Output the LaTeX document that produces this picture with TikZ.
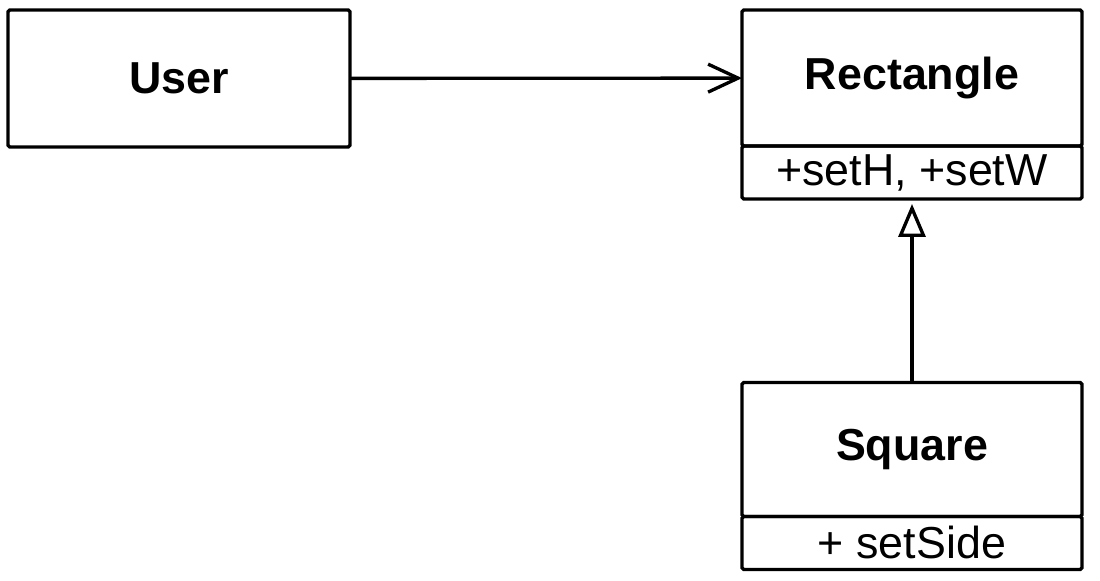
\documentclass[tikz,border=0pt]{standalone}
\usepackage{fontspec}
\setmainfont{Liberation Sans}
\usetikzlibrary{positioning,arrows.meta}

\begin{document}
\begin{tikzpicture}[x=0.02cm, y=-0.02cm,
        cls/.style = {draw, line width=1.9pt, rounded corners=1pt, outer sep=0pt,
                      minimum width=6.8cm, minimum height=2.72cm,
                      font=\fontsize{25.5}{30}\selectfont\bfseries},
        meth/.style = {draw, line width=1.9pt, rounded corners=1pt, outer sep=0pt,
                       minimum width=6.8cm, minimum height=1.06cm, inner sep=0pt,
                       font=\fontsize{25.5}{30}\selectfont},
        node distance={0pt}]
        \useasboundingbox (0,0) rectangle (1100,581);
        \node[cls, minimum width=6.84cm, minimum height=2.74cm] (user) at (179,78.5) {User};
        \node[cls] (rect) at (912,78) {Rectangle};
        \node[meth] (rectm) [below=of rect] {+setH, +setW};
        \node[cls, minimum height=2.68cm] (sq) at (912,449.5) {Square};
        \node[meth] (sqm) [below=of sq] {+ setSide};
        \draw[line width=1.9pt, -{Straight Barb[length=0.6cm, width=0.56cm, line width=1.9pt]}] (user) -- (rect);
        \draw[line width=1.9pt, -{Triangle[open, length=0.66cm, width=0.54cm, line width=1.9pt]}] (sq) -- ([yshift=-0.1cm]rectm.south);
\end{tikzpicture}
\end{document}
